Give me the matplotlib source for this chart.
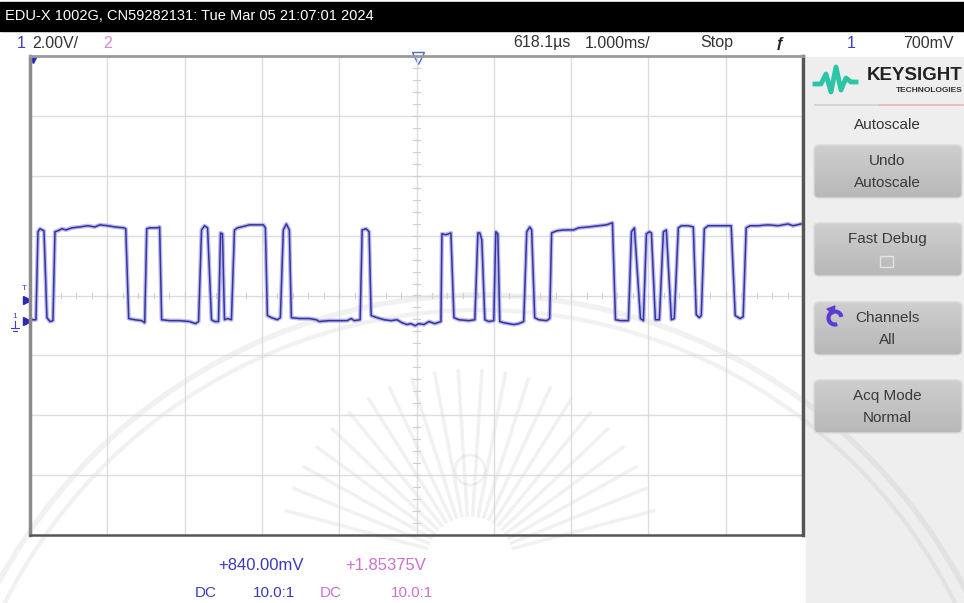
import numpy as np
import matplotlib.pyplot as plt
from matplotlib.patches import Rectangle, FancyBboxPatch, Arc, Polygon

plt.rcParams['font.family'] = ['Liberation Sans', 'DejaVu Sans']

# channel 1 capture, time in ms from left of screen, level in volts
t_ms = [0.000, 0.077, 0.103, 0.129, 0.181, 0.219, 0.258, 0.297, 0.323, 0.361,
        0.413, 0.465, 0.542, 0.645, 0.748, 0.839, 0.903, 1.006, 1.097, 1.213,
        1.239, 1.277, 1.355, 1.445, 1.484, 1.510, 1.548, 1.652, 1.677, 1.703,
        1.806, 1.935, 2.065, 2.142, 2.181, 2.219, 2.258, 2.297, 2.348, 2.387,
        2.439, 2.465, 2.490, 2.516, 2.555, 2.606, 2.645, 2.684, 2.735, 2.839,
        2.942, 3.019, 3.045, 3.071, 3.123, 3.200, 3.239, 3.277, 3.316, 3.355,
        3.381, 3.484, 3.613, 3.703, 3.742, 3.871, 4.000, 4.103, 4.155, 4.194,
        4.271, 4.297, 4.348, 4.387, 4.413, 4.490, 4.581, 4.671, 4.748, 4.813,
        4.877, 4.929, 4.981, 5.032, 5.097, 5.161, 5.239, 5.316, 5.329, 5.381,
        5.445, 5.484, 5.548, 5.677, 5.755, 5.794, 5.819, 5.845, 5.884, 5.935,
        6.000, 6.026, 6.052, 6.077, 6.129, 6.194, 6.258, 6.323, 6.387, 6.426,
        6.465, 6.490, 6.529, 6.581, 6.684, 6.723, 6.748, 6.813, 6.903, 7.032,
        7.097, 7.226, 7.355, 7.458, 7.535, 7.574, 7.639, 7.742, 7.781, 7.819,
        7.897, 7.935, 7.974, 8.013, 8.039, 8.090, 8.142, 8.194, 8.232, 8.297,
        8.335, 8.387, 8.426, 8.516, 8.581, 8.619, 8.658, 8.684, 8.723, 8.774,
        8.903, 9.071, 9.123, 9.187, 9.226, 9.265, 9.316, 9.419, 9.548, 9.677,
        9.806, 9.871, 9.974]
v_ch1 = [0.03, 0.03, 2.97, 3.07, 3.00, 0.10, -0.03, 0.00, 2.97, 3.00,
         3.07, 3.03, 3.10, 3.13, 3.17, 3.13, 3.20, 3.17, 3.13, 3.10,
         3.07, 0.07, 0.03, 0.00, -0.07, 3.07, 3.10, 3.10, 3.13, 0.03,
         0.00, 0.00, -0.03, -0.10, -0.03, 3.03, 3.17, 3.10, 0.03, -0.03,
         -0.03, 2.93, 2.90, 0.03, 0.07, 0.03, 3.03, 3.10, 3.13, 3.20,
         3.20, 3.20, 3.10, 0.17, 0.10, 0.03, 0.10, 3.03, 3.23, 3.03,
         0.10, 0.07, 0.07, 0.03, -0.03, 0.00, 0.00, 0.00, 0.07, 0.00,
         0.03, 3.03, 3.07, 2.97, 0.17, 0.10, 0.03, 0.00, 0.03, -0.07,
         -0.13, -0.10, -0.17, -0.10, -0.13, -0.03, -0.10, -0.03, 2.90, 2.87,
         2.93, 0.10, 0.03, 0.00, 0.03, 2.93, 2.93, 2.70, 0.03, -0.03,
         0.00, 2.97, 2.90, -0.03, -0.07, -0.10, -0.13, -0.10, -0.03, 2.97,
         3.13, 3.03, 0.10, 0.03, 0.00, 0.07, 2.93, 3.00, 3.03, 3.03,
         3.10, 3.13, 3.17, 3.20, 3.27, 0.03, 0.00, 0.00, 2.97, 3.10,
         0.07, 0.00, 2.90, 2.97, 2.93, 0.03, 0.03, 2.97, 3.03, 0.03,
         0.07, 3.10, 3.17, 3.17, 3.13, 0.20, 0.10, 0.17, 3.07, 3.17,
         3.17, 3.17, 0.17, 0.07, 0.13, 3.10, 3.17, 3.17, 3.20, 3.17,
         3.23, 3.17, 3.23]

volts_per_div = 2.0
ch1_offset = 0.84
softkeys = [("Undo", "Autoscale"), ("Fast Debug", ""), ("Channels", "All"), ("Acq Mode", "Normal")]

W, H = 964, 603
fig = plt.figure(figsize=(W / 100, H / 100), dpi=100)
fig.patch.set_facecolor('white')

# screen furniture drawn in pixel coordinates
bg = fig.add_axes([0, 0, 1, 1])
bg.set_xlim(0, W)
bg.set_ylim(H, 0)
bg.axis('off')

bg.add_patch(Rectangle((0, 2), W, 29, color='black', zorder=1))
bg.text(5, 16, "EDU-X 1002G, CN59282131: Tue Mar 05 21:07:01 2024", color='white',
        fontsize=10.5, va='center', ha='left', zorder=5)

row_y = 43
dark = '#333333'
bg.text(17, row_y, "1", color='#3c3cc8', fontsize=11.5, va='center', zorder=5)
bg.text(32, row_y, "2.00V/", color=dark, fontsize=11.5, va='center', zorder=5)
bg.text(103, row_y, "2", color='#d48ad8', fontsize=11.5, va='center', zorder=5)
bg.text(513, row_y, "618.1µs", color=dark, fontsize=11.5, va='center', zorder=5)
bg.text(585, row_y, "1.000ms/", color=dark, fontsize=11.5, va='center', zorder=5)
bg.text(700, row_y, "Stop", color=dark, fontsize=11.5, va='center', zorder=5)
bg.text(776, row_y, "ƒ", color='#222222', fontsize=11, va='center', zorder=5, fontweight='bold')
bg.text(847, row_y, "1", color='#3c3cc8', fontsize=11.5, va='center', zorder=5)
bg.text(903, row_y, "700mV", color=dark, fontsize=11.5, va='center', zorder=5)

# side panel
bg.add_patch(Rectangle((806, 57), W - 806, H - 57, color='#eeeeee', zorder=1))

# logo
logo_x = [815, 821, 826, 831, 836, 841, 846, 851, 856]
logo_y = [84, 84, 74, 92, 67, 90, 78, 82, 82]
bg.plot(logo_x, logo_y, color='#2cc6a6', lw=3.5, zorder=5)
bg.text(963, 76, "KEYSIGHT", ha='right', va='center', fontsize=13.5, fontweight='bold',
        color='#222222', zorder=5)
bg.text(963, 91, "TECHNOLOGIES", ha='right', va='center', fontsize=6, fontweight='bold',
        color='#333333', zorder=5)
bg.plot([815, 880], [105, 105], color='#cfcfcf', lw=1.2, zorder=5)
bg.plot([880, 963], [105, 105], color='#e6b9a6', lw=1.2, zorder=5)
bg.text(887, 125, "Autoscale", ha='center', va='center', fontsize=11, color=dark, zorder=5)

grad = np.linspace(0, 1, 64)[:, None]
top_c = np.array([0.81, 0.81, 0.81])
bot_c = np.array([0.72, 0.72, 0.72])
grad_img = top_c + (bot_c - top_c) * grad
grad_img = np.repeat(grad_img[:, None, :], 4, axis=1)

btn_top = [145, 223, 302, 380]
for (line1, line2), y0 in zip(softkeys, btn_top):
    box = FancyBboxPatch((814, y0), 148, 53, boxstyle="round,pad=0,rounding_size=5",
                         facecolor='none', edgecolor='#dadada', lw=1, zorder=4)
    bg.add_patch(box)
    im = bg.imshow(grad_img, extent=(814, 962, y0 + 53, y0), zorder=3, interpolation='bilinear')
    im.set_clip_path(box)
    bg.text(887, y0 + 16, line1, ha='center', va='center', fontsize=11, color='#3a3a3a', zorder=5)
    if line2:
        bg.text(887, y0 + 38, line2, ha='center', va='center', fontsize=11, color='#3a3a3a', zorder=5)
bg.set_aspect('auto')
bg.set_xlim(0, W)
bg.set_ylim(H, 0)

# checkbox on Fast Debug, loop icon on Channels
bg.add_patch(Rectangle((880, 256), 13, 11, facecolor='none', edgecolor='#e4e4e4', lw=1, zorder=5))
bg.add_patch(Arc((835, 318), 13, 13, theta1=70, theta2=350, color='#5a3dd0', lw=3, zorder=5))
bg.add_patch(Polygon([[827, 309], [835, 306], [833, 314]], color='#5a3dd0', zorder=5))

# channel and trigger markers
bg.text(24, 289, "T", color='#3c3cc8', fontsize=6, ha='center', va='center', zorder=5)
bg.plot(27, 300, marker='>', color='#2a2ab8', ms=6, zorder=5)
bg.text(15, 317, "1", color='#3c3cc8', fontsize=6, ha='center', va='center', zorder=5)
bg.plot(27, 321, marker='>', color='#2a2ab8', ms=6, zorder=5)
bg.plot([15, 15], [321, 328], color='#3c3cc8', lw=0.8, zorder=5)
bg.plot([11, 19], [328, 328], color='#3c3cc8', lw=0.8, zorder=5)
bg.plot([13, 17], [331, 331], color='#3c3cc8', lw=0.8, zorder=5)
bg.plot(33, 60, marker='v', color='#2a2ab8', ms=5, zorder=6)
bg.plot(418, 58, marker='v', markerfacecolor='white', markeredgecolor='#4a6ad0', ms=9, zorder=6)

# channel readouts under the grid
blue_txt = '#3a3ab8'
pink_txt = '#cc70d0'
bg.text(218, 566, "+840.00mV", color=blue_txt, fontsize=12, va='center', zorder=5)
bg.text(345, 566, "+1.85375V", color=pink_txt, fontsize=12, va='center', zorder=5)
bg.text(195, 593, "DC", color=blue_txt, fontsize=11, va='center', zorder=5)
bg.text(295, 593, "10.0:1", color=blue_txt, fontsize=11, va='center', ha='right', zorder=5)
bg.text(320, 593, "DC", color=pink_txt, fontsize=11, va='center', zorder=5)
bg.text(433, 593, "10.0:1", color=pink_txt, fontsize=11, va='center', ha='right', zorder=5)

# faint seal in the background
wm = dict(color='#7a7a7a', alpha=0.1, zorder=2)
bg.add_patch(Arc((480, 842), 1094, 1094, theta1=180, theta2=360, lw=4, **wm))
bg.add_patch(Arc((480, 842), 1064, 1064, theta1=180, theta2=360, lw=3, **wm))
bg.add_patch(Arc((470, 470), 30, 30, lw=2, **wm))
for ang in np.linspace(15, 165, 22):
    a = np.radians(ang)
    bg.plot([470 + 45 * np.cos(a), 470 + 190 * np.cos(a)],
            [560 - 45 * np.sin(a), 560 - 190 * np.sin(a)], lw=2.5, **wm)

# scope graticule and trace
ax = fig.add_axes([30 / W, (H - 535) / H, 773 / W, 479 / H])
ax.set_facecolor('none')
ax.set_zorder(3)
ax.set_xlim(0, 10)
ax.set_ylim(ch1_offset - 4 * volts_per_div, ch1_offset + 4 * volts_per_div)
ax.set_xticks(np.arange(0, 11))
ax.set_yticks(ch1_offset + volts_per_div * np.arange(-4, 5))
ax.tick_params(length=0, labelbottom=False, labelleft=False)
ax.grid(color='#dcdcdc', lw=1)
for x in np.arange(0, 10.01, 0.2):
    ax.plot([x, x], [ch1_offset - 0.1, ch1_offset + 0.1], color='#cfcfcf', lw=0.8)
for y in ch1_offset + np.arange(-8, 8.01, 0.4):
    ax.plot([4.96, 5.04], [y, y], color='#cfcfcf', lw=0.8)

ax.plot(t_ms, v_ch1, color='#a4a4ec', lw=3.0, alpha=0.75, solid_joinstyle='round')
ax.plot(t_ms, v_ch1, color='#34349c', lw=1.1, solid_joinstyle='round')

ax.spines['left'].set_color('#8a8a8a')
ax.spines['left'].set_linewidth(2.5)
ax.spines['top'].set_color('#9a9a9a')
ax.spines['top'].set_linewidth(2)
ax.spines['right'].set_color('#555555')
ax.spines['right'].set_linewidth(2.5)
ax.spines['bottom'].set_color('#555555')
ax.spines['bottom'].set_linewidth(1.8)

fig.savefig('out.png', dpi=100)
